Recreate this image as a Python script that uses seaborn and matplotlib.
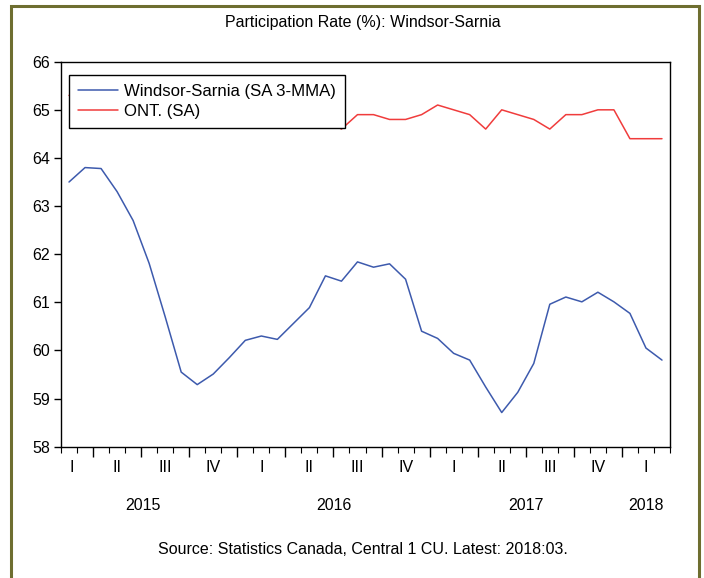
import matplotlib
matplotlib.use("Agg")
import matplotlib.pyplot as plt
import matplotlib.transforms as mtransforms
from matplotlib.patches import Rectangle
import numpy as np
import pandas as pd
import seaborn as sns

# Monthly observations, 2015:02 - 2018:03
months = pd.period_range("2015-02", "2018-03", freq="M")

windsor = [63.50, 63.80, 63.78, 63.30, 62.70, 61.81, 60.70, 59.55, 59.29, 59.51,
           59.85, 60.21, 60.30, 60.23, 60.56, 60.89, 61.55, 61.44, 61.84, 61.73,
           61.80, 61.48, 60.40, 60.25, 59.94, 59.80, 59.24, 58.71, 59.13, 59.73,
           60.96, 61.11, 61.01, 61.21, 61.01, 60.77, 60.05, 59.80]

ontario = [65.3, 65.3, 65.3, 65.3, 65.2, 65.0, 65.2, 65.1, 65.0, 65.0,
           65.1, 65.0, 64.8, 64.9, 64.8, 64.8, 64.8, 64.6, 64.9, 64.9,
           64.8, 64.8, 64.9, 65.1, 65.0, 64.9, 64.6, 65.0, 64.9, 64.8,
           64.6, 64.9, 64.9, 65.0, 65.0, 64.4, 64.4, 64.4]

series_names = ["Windsor-Sarnia (SA 3-MMA)", "ONT. (SA)"]
series_colors = ["#3d5aad", "#f03c3c"]
quarter_labels = ["I", "II", "III", "IV"]
years = [2015, 2016, 2017, 2018]

title = "Participation Rate (%): Windsor-Sarnia"
source = "Source: Statistics Canada, Central 1 CU. Latest: 2018:03."

# position of each month on the axis: months since 2015:01, centred in the month
t = np.array([(m.year - 2015) * 12 + (m.month - 1) for m in months]) + 0.5

df = pd.DataFrame({
    "t": np.concatenate([t, t]),
    "value": windsor + ontario,
    "series": [series_names[0]] * len(t) + [series_names[1]] * len(t),
})

sns.set_theme(style="white")
plt.rcParams["font.family"] = ["Liberation Sans", "DejaVu Sans"]
plt.rcParams["text.color"] = "black"
plt.rcParams["xtick.labelcolor"] = "black"
plt.rcParams["ytick.labelcolor"] = "black"

W, H = 704, 578
fig = plt.figure(figsize=(W / 100, H / 100), dpi=100)
fig.patch.set_facecolor("white")

left, right, top, bottom = 61, 670, 61.7, 446.7
ax = fig.add_axes([left / W, 1 - bottom / H, (right - left) / W, (bottom - top) / H])

sns.lineplot(data=df, x="t", y="value", hue="series", hue_order=series_names,
             palette=series_colors, linewidth=1.1, ax=ax, legend=True)

x_lo, x_hi = t[0] - 0.5, t[-1] + 0.5
ax.set_xlim(x_lo, x_hi)
ax.set_ylim(58, 66)
ax.set_yticks(range(58, 67))
ax.set_xlabel("")
ax.set_ylabel("")

for s in ax.spines.values():
    s.set_visible(True)
    s.set_color("black")
    s.set_linewidth(1.0)

# month ticks (minor) and quarter ticks (major)
ax.set_xticks(np.arange(3, 39, 3))
ax.set_xticklabels([])
ax.set_xticks(np.arange(x_lo, x_hi + 0.1, 1), minor=True)
ax.tick_params(axis="x", which="major", direction="out", length=7, width=1, color="black", bottom=True)
ax.tick_params(axis="x", which="minor", direction="out", length=4, width=0.8, color="black", bottom=True)
ax.tick_params(axis="y", which="major", direction="out", length=5, width=1, color="black",
               left=True, labelsize=11.5, pad=3, labelcolor="black")

# quarter and year labels under the axis
trans = mtransforms.blended_transform_factory(ax.transData, fig.transFigure)
q_pos = []
for q in range(0, 13):
    start = q * 3
    lo, hi = max(start, x_lo), min(start + 3, x_hi)
    if hi > lo:
        q_pos.append(((lo + hi) / 2 if start < x_lo else start + 1.5, quarter_labels[q % 4]))
q_pos[0] = (1.7, q_pos[0][1])
q_pos[-1] = (37.5, q_pos[-1][1])
for x, lab in q_pos:
    ax.text(x, 1 - 467 / H, lab, transform=trans, ha="center", va="center", fontsize=11.5)

year_pos = [6.1, 18, 30, 37.5]
for x, y in zip(year_pos, years):
    ax.text(x, 1 - 505 / H, str(y), transform=trans, ha="center", va="center", fontsize=11.5)

fig.text(363 / W, 1 - 22 / H, title, ha="center", va="center", fontsize=11.5)
fig.text(363 / W, 1 - 549 / H, source, ha="center", va="center", fontsize=11.5)

leg = ax.legend(loc="upper left", bbox_to_anchor=(0.013, 0.966), borderaxespad=0,
                fontsize=12.1, frameon=True, fancybox=False, handlelength=2.35,
                handletextpad=0.4, borderpad=0.55, labelspacing=0.3)
leg.get_frame().set_edgecolor("black")
leg.get_frame().set_linewidth(1.0)
leg.get_frame().set_facecolor("white")
leg.get_frame().set_alpha(1)
for line in leg.get_lines():
    line.set_linewidth(1.1)

# olive outer frame
fig.patches.append(Rectangle((11 / W, -0.02), (699 - 11) / W, 1 - 6 / H + 0.02,
                             transform=fig.transFigure, fill=False,
                             edgecolor="#6e6e30", linewidth=2.2, clip_on=False))

fig.savefig("out.png", dpi=100, facecolor="white")
